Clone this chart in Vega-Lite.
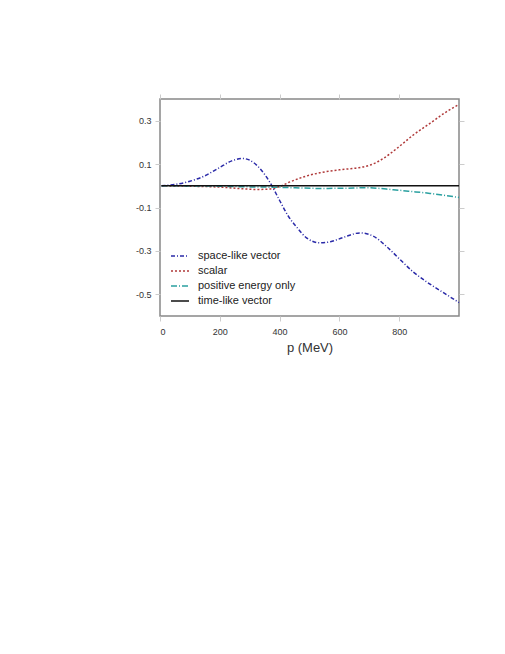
{
  "$schema": "https://vega.github.io/schema/vega-lite/v6.json",
  "autosize": {"type": "none"},
  "width": 299,
  "height": 217,
  "padding": {"left": 160, "top": 99, "right": 46, "bottom": 338},
  "background": "white",
  "config": {
    "font": "Liberation Sans",
    "view": {"stroke": "#888888", "strokeWidth": 1.5},
    "axis": {
      "grid": false,
      "domain": false,
      "tickColor": "#cccccc",
      "tickSize": 5,
      "labelColor": "#333333",
      "labelFontSize": 9,
      "labelFont": "Liberation Sans",
      "titleFont": "Liberation Sans",
      "titleFontWeight": "normal",
      "titleColor": "#333333"
    },
    "legend": {
      "labelFont": "Liberation Sans",
      "labelFontSize": 11,
      "labelColor": "#222222"
    }
  },
  "data": {
    "values": [
      {"p": 5, "v": 0.0, "series": "space-like vector"},
      {"p": 50, "v": 0.006, "series": "space-like vector"},
      {"p": 100, "v": 0.021, "series": "space-like vector"},
      {"p": 150, "v": 0.046, "series": "space-like vector"},
      {"p": 200, "v": 0.085, "series": "space-like vector"},
      {"p": 240, "v": 0.115, "series": "space-like vector"},
      {"p": 275, "v": 0.126, "series": "space-like vector"},
      {"p": 300, "v": 0.118, "series": "space-like vector"},
      {"p": 334, "v": 0.08, "series": "space-like vector"},
      {"p": 368, "v": 0.015, "series": "space-like vector"},
      {"p": 401, "v": -0.07, "series": "space-like vector"},
      {"p": 429, "v": -0.14, "series": "space-like vector"},
      {"p": 457, "v": -0.19, "series": "space-like vector"},
      {"p": 490, "v": -0.24, "series": "space-like vector"},
      {"p": 535, "v": -0.263, "series": "space-like vector"},
      {"p": 570, "v": -0.258, "series": "space-like vector"},
      {"p": 613, "v": -0.238, "series": "space-like vector"},
      {"p": 669, "v": -0.217, "series": "space-like vector"},
      {"p": 713, "v": -0.232, "series": "space-like vector"},
      {"p": 758, "v": -0.28, "series": "space-like vector"},
      {"p": 803, "v": -0.34, "series": "space-like vector"},
      {"p": 847, "v": -0.397, "series": "space-like vector"},
      {"p": 892, "v": -0.443, "series": "space-like vector"},
      {"p": 936, "v": -0.482, "series": "space-like vector"},
      {"p": 1000, "v": -0.538, "series": "space-like vector"},
      {"p": 5, "v": 0.0, "series": "scalar"},
      {"p": 100, "v": -0.002, "series": "scalar"},
      {"p": 200, "v": -0.006, "series": "scalar"},
      {"p": 270, "v": -0.013, "series": "scalar"},
      {"p": 323, "v": -0.017, "series": "scalar"},
      {"p": 365, "v": -0.015, "series": "scalar"},
      {"p": 401, "v": -0.003, "series": "scalar"},
      {"p": 435, "v": 0.018, "series": "scalar"},
      {"p": 490, "v": 0.045, "series": "scalar"},
      {"p": 535, "v": 0.06, "series": "scalar"},
      {"p": 602, "v": 0.074, "series": "scalar"},
      {"p": 658, "v": 0.082, "series": "scalar"},
      {"p": 702, "v": 0.095, "series": "scalar"},
      {"p": 747, "v": 0.126, "series": "scalar"},
      {"p": 792, "v": 0.172, "series": "scalar"},
      {"p": 847, "v": 0.234, "series": "scalar"},
      {"p": 903, "v": 0.288, "series": "scalar"},
      {"p": 959, "v": 0.342, "series": "scalar"},
      {"p": 1000, "v": 0.375, "series": "scalar"},
      {"p": 5, "v": 0.0, "series": "positive energy only"},
      {"p": 200, "v": -0.002, "series": "positive energy only"},
      {"p": 300, "v": -0.005, "series": "positive energy only"},
      {"p": 400, "v": -0.007, "series": "positive energy only"},
      {"p": 535, "v": -0.012, "series": "positive energy only"},
      {"p": 620, "v": -0.011, "series": "positive energy only"},
      {"p": 691, "v": -0.009, "series": "positive energy only"},
      {"p": 780, "v": -0.018, "series": "positive energy only"},
      {"p": 840, "v": -0.026, "series": "positive energy only"},
      {"p": 903, "v": -0.035, "series": "positive energy only"},
      {"p": 1000, "v": -0.054, "series": "positive energy only"},
      {"p": 5, "v": 0.0, "series": "time-like vector"},
      {"p": 1000, "v": 0.0, "series": "time-like vector"}
    ]
  },
  "layer": [
    {
      "mark": {"type": "line", "interpolate": "monotone", "opacity": 0},
      "encoding": {
        "x": {"field": "p", "type": "quantitative", "scale": {"domain": [0, 1000], "nice": false, "zero": false},
              "axis": {"orient": "top", "values": [0, 200, 400, 600, 800], "labels": false, "title": null}},
        "y": {"field": "v", "type": "quantitative", "scale": {"domain": [-0.6, 0.4], "nice": false, "zero": false},
              "axis": {"orient": "right", "values": [-0.5, -0.3, -0.1, 0.1, 0.3], "labels": false, "title": null}},
        "detail": {"field": "series"}
      }
    },
    {
      "mark": {"type": "line", "interpolate": "monotone"},
      "encoding": {
        "x": {"field": "p", "type": "quantitative", "scale": {"domain": [0, 1000], "nice": false, "zero": false},
              "axis": {"orient": "bottom", "values": [0, 200, 400, 600, 800], "title": "p (MeV)", "labelPadding": 6, "titleFontSize": 13, "titlePadding": 5}},
        "y": {"field": "v", "type": "quantitative", "scale": {"domain": [-0.6, 0.4], "nice": false, "zero": false},
              "axis": {"orient": "left", "values": [-0.5, -0.3, -0.1, 0.1, 0.3], "title": null, "labelPadding": 4,
                       "labelExpr": "datum.value < 0 ? '-' + format(-datum.value, '.1f') : format(datum.value, '.1f')"}},
        "color": {"field": "series", "type": "nominal",
                  "scale": {"domain": ["space-like vector", "scalar", "positive energy only", "time-like vector"],
                            "range": ["#2a2aa8", "#b03a3a", "#2aa0a0", "#111111"]},
                  "legend": {"orient": "none", "legendX": 10, "legendY": 147, "title": null, "symbolType": "stroke", "symbolSize": 324, "labelOffset": 8, "rowPadding": 0, "padding": 0}},
        "strokeDash": {"field": "series", "type": "nominal",
                       "scale": {"domain": ["space-like vector", "scalar", "positive energy only", "time-like vector"],
                                 "range": [[4, 2, 1, 2], [2, 2], [6, 2, 1, 2], [1, 0]]},
                       "legend": {"orient": "none", "legendX": 10, "legendY": 147, "title": null, "symbolType": "stroke", "symbolSize": 324, "labelOffset": 8, "rowPadding": 0, "padding": 0}},
        "strokeWidth": {"field": "series", "type": "nominal",
                        "scale": {"domain": ["space-like vector", "scalar", "positive energy only", "time-like vector"],
                                  "range": [1.5, 1.5, 1.5, 2]},
                        "legend": {"orient": "none", "legendX": 10, "legendY": 147, "title": null, "symbolType": "stroke", "symbolSize": 324, "labelOffset": 8, "rowPadding": 0, "padding": 0}},
        "order": {"field": "p", "type": "quantitative"}
      }
    }
  ],
  "resolve": {"axis": {"x": "independent", "y": "independent"}}
}
